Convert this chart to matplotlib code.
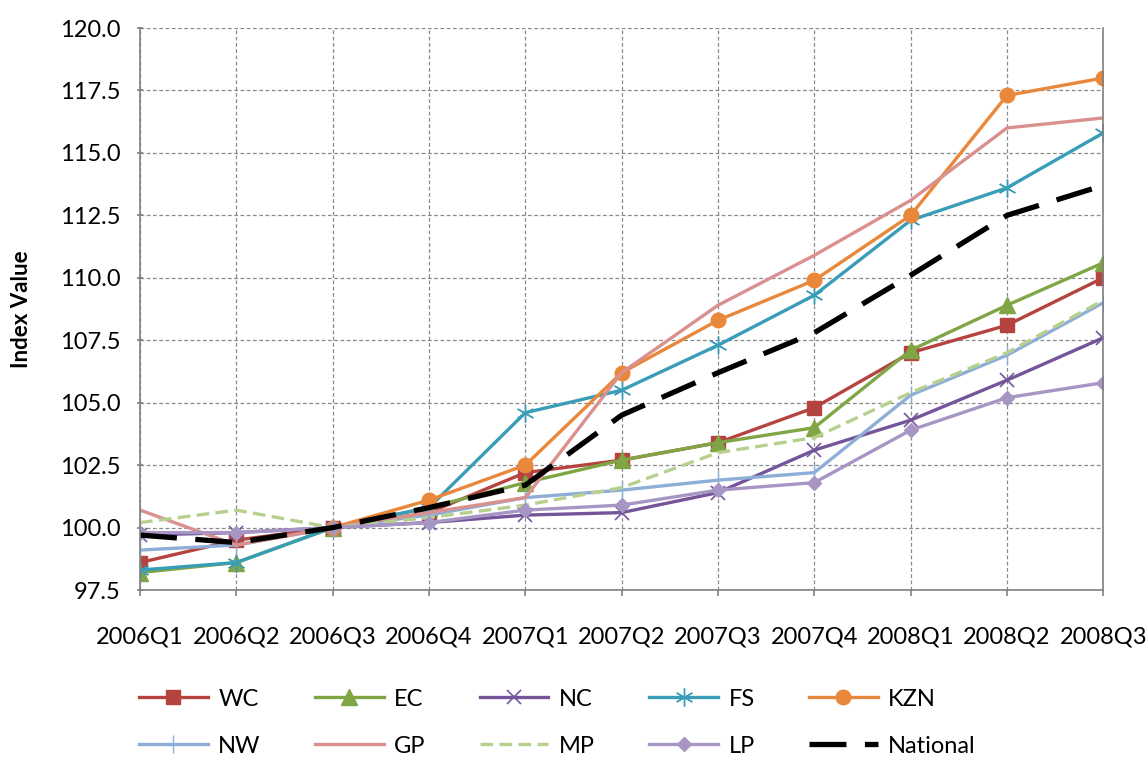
import numpy as np
import matplotlib.pyplot as plt

quarters = ['2006Q1', '2006Q2', '2006Q3', '2006Q4', '2007Q1', '2007Q2',
            '2007Q3', '2007Q4', '2008Q1', '2008Q2', '2008Q3']

wc = [98.6, 99.5, 100.0, 100.6, 102.2, 102.7, 103.4, 104.8, 107.0, 108.1, 110.0]
ec = [98.2, 98.6, 100.0, 100.8, 101.8, 102.7, 103.4, 104.0, 107.1, 108.9, 110.6]
nc = [99.7, 99.8, 100.0, 100.2, 100.5, 100.6, 101.4, 103.1, 104.3, 105.9, 107.6]
fs = [98.3, 98.6, 100.0, 100.8, 104.6, 105.5, 107.3, 109.3, 112.3, 113.6, 115.8]
kzn = [np.nan, np.nan, 100.0, 101.1, 102.5, 106.2, 108.3, 109.9, 112.5, 117.3, 118.0]
nw = [99.1, 99.3, 100.0, 100.5, 101.2, 101.5, 101.9, 102.2, 105.3, 106.9, 109.0]
gp = [100.7, 99.3, 100.0, 100.6, 101.2, 106.2, 108.9, 110.9, 113.1, 116.0, 116.4]
mp = [100.2, 100.7, 100.0, 100.4, 100.9, 101.6, 103.0, 103.6, 105.4, 107.0, 109.1]
lp = [99.8, 99.8, 100.0, 100.2, 100.7, 100.9, 101.5, 101.8, 103.9, 105.2, 105.8]
national = [99.7, 99.4, 100.0, 100.8, 101.7, 104.5, 106.2, 107.8, 110.1, 112.5, 113.7]

plt.rcParams['font.family'] = ['Lato', 'DejaVu Sans']
FS_TEXT = 17

fig = plt.figure(figsize=(11.48, 7.58), dpi=100)
ax = fig.add_axes([0.122, 0.2216, 0.839, 0.7414])
x = np.arange(len(quarters))

lw = 2.4
h = {}
h['WC'], = ax.plot(x, wc, color='#B5433F', lw=lw, marker='s', ms=9.5, label='WC')
h['EC'], = ax.plot(x, ec, color='#7FA545', lw=lw, marker='^', ms=11, label='EC')
h['NC'], = ax.plot(x, nc, color='#74559A', lw=lw, marker='x', ms=10, mew=1.2, label='NC')
h['FS'], = ax.plot(x, fs, color='#3A9DB8', lw=lw, marker=(6, 2, 0), ms=13, mew=1.0, label='FS')
h['KZN'], = ax.plot(x, kzn, color='#E9873A', lw=lw, marker='o', ms=10.5, label='KZN')
h['NW'], = ax.plot(x, nw, color='#8EAED8', lw=lw, marker='|', ms=13, mew=1.0, label='NW')
h['GP'], = ax.plot(x, gp, color='#D9908F', lw=lw, label='GP')
h['MP'], = ax.plot(x, mp, color='#B7D08E', lw=lw, ls=(0, (3.8, 1.9)), label='MP')
h['LP'], = ax.plot(x, lp, color='#A796C3', lw=lw, marker='D', ms=7.5, label='LP')
h['National'], = ax.plot(x, national, color='black', lw=3.8, ls=(0, (7, 3.5)), label='National')

ax.set_xlim(0, len(quarters) - 1)
ax.set_ylim(97.5, 120.0)
yt = np.arange(97.5, 120.01, 2.5)
ax.set_yticks(yt)
ax.set_yticklabels([f'{v:.1f}' for v in yt])
ax.set_xticks(x)
ax.set_xticklabels(quarters)
ax.tick_params(labelsize=FS_TEXT, length=4.5, color='#808080', width=1.2)
ax.tick_params(axis='y', direction='inout', pad=12)
ax.tick_params(axis='x', pad=22)
ax.grid(True, ls=(0, (3, 2)), color='#8a8a8a', lw=0.9)
ax.set_axisbelow(True)
for side in ['left', 'bottom', 'right']:
    ax.spines[side].set_color('#808080')
    ax.spines[side].set_linewidth(1.2)
ax.spines['top'].set_visible(False)
ax.set_ylabel('Index Value', fontsize=16, fontweight='bold', labelpad=20)

# legend reads row by row, matplotlib fills column by column
order = ['WC', 'NW', 'EC', 'GP', 'NC', 'MP', 'FS', 'LP', 'KZN', 'National']
ax.legend([h[k] for k in order], order, loc='center left',
          bbox_to_anchor=(0.113, 0.0468), bbox_transform=fig.transFigure,
          ncol=5, frameon=False, fontsize=FS_TEXT, handlelength=2.9,
          handletextpad=0.45, columnspacing=2.3, labelspacing=1.1,
          borderaxespad=0)

fig.savefig('out.png', dpi=100)
